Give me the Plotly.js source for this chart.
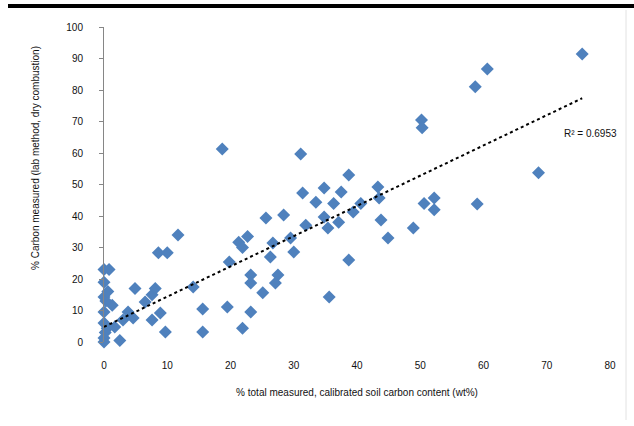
<!DOCTYPE html>
<html>
<head>
<meta charset="utf-8">
<script src="https://cdn.plot.ly/plotly-3.0.1.min.js"></script>
<style>html,body{margin:0;padding:0;background:#fff;}#chart{width:634px;height:426px;}</style>
</head>
<body>
<div id="chart"></div>
<script>
const measured = [0,0.8,0,0,1.3,0,0,0.5,0,0,0.3,0.6,0.2,
  2.5,1.7,3,3.8,4.6,4.9,6.5,7.6,8.1,7.6,8.9,9.7,8.6,10,11.7,14.1,15.6,15.6,18.7,19.5,19.8,
  21.3,21.9,22.7,21.9,23.2,23.2,23.2,25.1,25.6,26.7,26.3,27.5,27.1,28.4,29.5,30,31.1,31.4,
  31.9,33.5,34.8,34.8,35.4,35.6,36.3,37.1,37.5,38.7,39.4,38.7,40.6,43.3,43.5,43.8,44.9,
  48.9,50.6,52.2,52.2,50.2,50.3,58.7,60.6,59,68.7,75.6];
const lab = [23,23,19,14.3,11.7,9.5,6,4.4,1.3,0,13,16,3,
  0.5,4.8,7,9.5,7.6,17,12.7,15,17,7,9.2,3.2,28.3,28.3,34,17.5,10.5,3.2,61.3,11.1,25.4,
  31.7,30,33.5,4.4,9.5,21.3,18.7,15.6,39.4,31.4,27,21.3,18.7,40.3,33,28.6,59.7,47.3,
  37.1,44.4,48.9,39.7,36.2,14.3,44,38,47.6,53,41.3,26,44,49.2,45.7,38.7,33,
  36.2,44,45.7,42,70.5,68,81,86.7,43.8,53.7,91.4];
const xTicks = [0,10,20,30,40,50,60,70,80];
const yTicks = [0,10,20,30,40,50,60,70,80,90,100];
const xTitle = "% total measured, calibrated soil carbon content (wt%)";
const yTitle = "% Carbon measured (lab method, dry combustion)";
const r2Label = "R² = 0.6953";
// trendline coefficients as shown on the reference
const trendSlope = 0.96;
const trendIntercept = 4.8;

const xMin = Math.min(...measured), xMax = Math.max(...measured);
const trendX = [xMin, xMax];
const trendY = trendX.map(v => trendIntercept + trendSlope*v);

const font = {family: "Liberation Sans, Arial, sans-serif", size: 10, color: "#111"};

const data = [
  {x: measured, y: lab, type: "scatter", mode: "markers", cliponaxis: false,
   marker: {symbol: "diamond", size: 10, color: "#4F81BD", line: {width: 0}}, hoverinfo: "x+y"},
  {x: trendX, y: trendY, type: "scatter", mode: "lines", cliponaxis: false,
   line: {color: "#000", width: 2, dash: "dot"}, hoverinfo: "skip"}
];

const layout = {
  width: 634, height: 426,
  margin: {l: 104, r: 24, t: 27, b: 84},
  paper_bgcolor: "#fff", plot_bgcolor: "#fff",
  showlegend: false,
  font: font,
  xaxis: {range: [0, 80], tickvals: xTicks, ticktext: xTicks.map(String),
    showgrid: false, zeroline: false, showline: false, ticks: "",
    ticklabelstandoff: 16,
    tickfont: font, title: {text: xTitle, font: font, standoff: 18}},
  yaxis: {range: [0, 100], tickvals: yTicks, ticktext: yTicks.map(String),
    showgrid: false, zeroline: false, showline: true, linecolor: "#868686", linewidth: 1,
    ticks: "outside", ticklen: 4, tickcolor: "#868686", ticklabelstandoff: 14,
    tickfont: font, title: {text: ""}},
  annotations: [
    {xref: "paper", yref: "paper", x: (35-104)/506, y: (342-158)/315, text: yTitle,
     textangle: -90, showarrow: false, font: font, xanchor: "center", yanchor: "middle"},
    {xref: "x", yref: "y", x: 72.4, y: 66.3, text: r2Label, showarrow: false,
     xanchor: "left", yanchor: "middle", font: font}
  ],
  shapes: [
    {type: "line", xref: "paper", yref: "paper", x0: (8-104)/506, x1: (634-104)/506,
     y0: (342-6)/315, y1: (342-6)/315, line: {color: "#000", width: 4}},
    {type: "line", xref: "paper", yref: "paper", x0: (626-104)/506, x1: (626-104)/506,
     y0: (342-10)/315, y1: (342-420)/315, line: {color: "#e2e2e2", width: 1}}
  ]
};

Plotly.newPlot("chart", data, layout, {displayModeBar: false, staticPlot: true});
</script>
</body>
</html>
